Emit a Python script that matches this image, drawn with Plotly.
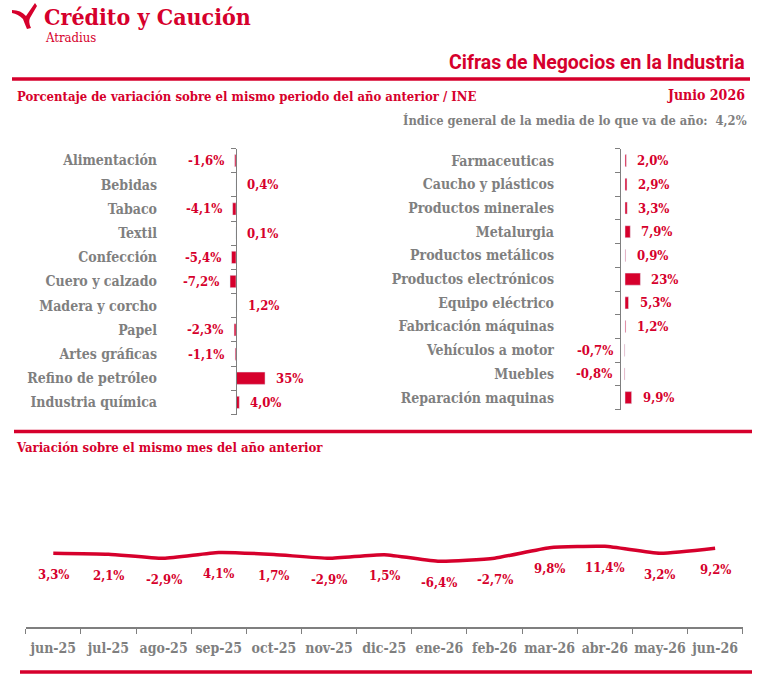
import plotly.graph_objects as go

# Data
left_cats = ["Alimentación", "Bebidas", "Tabaco", "Textil", "Confección", "Cuero y calzado",
             "Madera y corcho", "Papel", "Artes gráficas", "Refino de petróleo", "Industria química"]
left_vals = [-1.6, 0.4, -4.1, 0.1, -5.4, -7.2, 1.2, -2.3, -1.1, 35, 4.0]

right_cats = ["Farmaceuticas", "Caucho y plásticos", "Productos minerales", "Metalurgia",
              "Productos metálicos", "Productos electrónicos", "Equipo eléctrico",
              "Fabricación máquinas", "Vehículos a motor", "Muebles", "Reparación maquinas"]
right_vals = [2.0, 2.9, 3.3, 7.9, 0.9, 23, 5.3, 1.2, -0.7, -0.8, 9.9]

months = ["jun-25", "jul-25", "ago-25", "sep-25", "oct-25", "nov-25", "dic-25",
          "ene-26", "feb-26", "mar-26", "abr-26", "may-26", "jun-26"]
monthly_vals = [3.3, 2.1, -2.9, 4.1, 1.7, -2.9, 1.5, -6.4, -2.7, 9.8, 11.4, 3.2, 9.2]

index_general = 4.2
period = "Junio 2026"

RED = "#d6002c"
GRAY = "#7f7f7f"
SERIF = "DejaVu Serif Condensed, DejaVu Serif, serif"
SANS = "Liberation Sans Narrow, Roboto, sans-serif"
W, H = 762, 676


def fx(p):
    return p / W


def fy(p):
    return 1 - p / H


def pct(v, big_round=True):
    if big_round and abs(v) >= 10:
        s = f"{v:.0f}%"
    else:
        s = f"{v:.1f}%"
    return s.replace(".", ",")


fig = go.Figure()

# bar charts
fig.add_trace(go.Bar(x=left_vals, y=left_cats, orientation="h", marker_color=RED,
                     xaxis="x", yaxis="y", hoverinfo="skip"))
fig.add_trace(go.Bar(x=right_vals, y=right_cats, orientation="h", marker_color=RED,
                     xaxis="x2", yaxis="y2", hoverinfo="skip"))
# empty traces so the overlay axes (line + ticks) get drawn
fig.add_trace(go.Scatter(x=[None], y=[None], xaxis="x", yaxis="y3", showlegend=False))
fig.add_trace(go.Scatter(x=[None], y=[None], xaxis="x2", yaxis="y4", showlegend=False))

# monthly line
fig.add_trace(go.Scatter(x=months, y=monthly_vals, mode="lines", xaxis="x5", yaxis="y5",
                         line=dict(color=RED, width=3.5, shape="spline", smoothing=0.5),
                         hoverinfo="skip"))

lab_font = dict(family=SERIF, size=14, color=GRAY, weight="bold")
val_font = dict(family=SERIF, size=13, color=RED, weight="bold")
head_font = dict(family=SERIF, size=13, color=RED, weight="bold")

# left: zero at px 236, 0.83 px per unit; right: zero at 625, 0.67 px per unit
l0, lsc = 236, 0.83
r0, rsc = 625, 0.67
bound = [i - 0.5 for i in range(12)]
# line chart: 0.84 px per unit, value 15 sits on the grid line at px 543.3
lsc5 = 0.84

fig.update_layout(
    width=W, height=H, autosize=False,
    margin=dict(l=0, r=0, t=0, b=0, pad=0, autoexpand=False),
    paper_bgcolor="white", plot_bgcolor="white", showlegend=False,
    bargap=0.49,
    xaxis=dict(domain=[fx(158), fx(372)], range=[(158 - l0) / lsc, (372 - l0) / lsc],
               visible=False, fixedrange=True, automargin=False),
    yaxis=dict(domain=[fy(414.5), fy(148.5)], type="category", categoryarray=left_cats,
               range=[10.5, -0.5], autorange=False, ticks="", showline=False,
               showgrid=False, tickfont=lab_font, anchor="x", automargin=False),
    yaxis3=dict(overlaying="y", anchor="free", position=fx(l0), type="linear",
                range=[10.5, -0.5], autorange=False, tickvals=bound, ticks="outside",
                ticklen=5, tickcolor=GRAY, showline=True, linecolor=GRAY, linewidth=1,
                showticklabels=False, showgrid=False, zeroline=False, automargin=False),
    xaxis2=dict(domain=[fx(555), fx(750)], range=[(555 - r0) / rsc, (750 - r0) / rsc],
                visible=False, fixedrange=True, automargin=False),
    yaxis2=dict(domain=[fy(409.5), fy(148.8)], type="category", categoryarray=right_cats,
                range=[10.5, -0.5], autorange=False, ticks="", showline=False,
                showgrid=False, tickfont=lab_font, anchor="x2", automargin=False),
    yaxis4=dict(overlaying="y2", anchor="free", position=fx(620), type="linear",
                range=[10.5, -0.5], autorange=False, tickvals=bound, ticks="outside",
                ticklen=5, tickcolor=GRAY, showline=True, linecolor=GRAY, linewidth=1,
                showticklabels=False, showgrid=False, zeroline=False, automargin=False),
    xaxis5=dict(domain=[fx(25.7), fx(742.7)], type="category", categoryarray=months,
                range=[-0.5, len(months) - 0.5], autorange=False, tickson="boundaries",
                ticks="outside", ticklen=5, tickcolor=GRAY, showline=True, linecolor=GRAY,
                linewidth=1.5, showgrid=False, tickangle=0, ticklabelstandoff=7,
                tickfont=dict(family=SERIF, size=14, color=GRAY, weight="bold"),
                anchor="y5", automargin=False),
    yaxis5=dict(domain=[fy(627.3), fy(543.3 - 0.6 * lsc5)],
                range=[15 - (627.3 - 543.3) / lsc5, 15.6], autorange=False,
                tickmode="array", tickvals=[15],
                showticklabels=False, showgrid=True, gridcolor="#c8c8c8", gridwidth=1,
                zeroline=False, anchor="x5", automargin=False),
)

ann = []
for c, v in zip(left_cats, left_vals):
    ann.append(dict(x=v, y=c, xref="x", yref="y", text=pct(v), showarrow=False,
                    xanchor="left" if v >= 0 else "right", xshift=9 if v >= 0 else -9,
                    font=val_font))
for c, v in zip(right_cats, right_vals):
    ann.append(dict(x=v, y=c, xref="x2", yref="y2", text=pct(v), showarrow=False,
                    xanchor="left" if v >= 0 else "right", xshift=9 if v >= 0 else -10,
                    font=val_font))
for m, v in zip(months, monthly_vals):
    ann.append(dict(x=m, y=v, xref="x5", yref="y5", text=pct(v, False), showarrow=False,
                    yshift=-21, font=val_font))

# header texts
ann += [
    dict(x=fx(42), y=fy(17), xref="paper", yref="paper", xanchor="left", yanchor="middle",
         text="Crédito y Caución", showarrow=False,
         font=dict(family=SERIF, size=23, color=RED, weight="bold")),
    dict(x=fx(43), y=fy(38), xref="paper", yref="paper", xanchor="left", yanchor="middle",
         text="Atradius", showarrow=False, font=dict(family=SERIF, size=13, color=RED)),
    dict(x=fx(747), y=fy(62), xref="paper", yref="paper", xanchor="right", yanchor="middle",
         text="Cifras de Negocios en la Industria", showarrow=False,
         font=dict(family=SANS, size=19.5, color=RED, weight="bold")),
    dict(x=fx(15), y=fy(96), xref="paper", yref="paper", xanchor="left", yanchor="middle",
         text="Porcentaje de variación sobre el mismo periodo del año anterior / INE",
         showarrow=False, font=head_font),
    dict(x=fx(747), y=fy(95), xref="paper", yref="paper", xanchor="right", yanchor="middle",
         text=period, showarrow=False, font=dict(head_font, size=14)),
    dict(x=fx(749), y=fy(121), xref="paper", yref="paper", xanchor="right", yanchor="middle",
         text="Índice general de la media de lo que va de año:  " + pct(index_general),
         showarrow=False, font=dict(lab_font, size=12.8)),
    dict(x=fx(14), y=fy(447), xref="paper", yref="paper", xanchor="left", yanchor="middle",
         text="Variación sobre el mismo mes del año anterior", showarrow=False, font=head_font),
]
fig.update_layout(annotations=ann)

# red rules and logo mark
shapes = []
for y0, xa, xb, w in [(79, 12, 750, 3.3), (431.5, 14, 752, 3.5), (672, 20, 752, 3.5)]:
    shapes.append(dict(type="line", xref="paper", yref="paper", x0=fx(xa), x1=fx(xb),
                       y0=fy(y0), y1=fy(y0), line=dict(color=RED, width=w)))
logo = [("M", 12, 10), ("Q", 21, 10, 26, 16), ("L", 35, 3), ("L", 37, 6), ("L", 30, 18),
        ("Q", 28, 22, 31, 28), ("L", 27, 29), ("Q", 24, 22, 23, 19), ("Q", 18, 14, 12, 13)]
path = ""
for seg in logo:
    pts = seg[1:]
    coords = " ".join(f"{fx(pts[i]):.5f},{fy(pts[i + 1]):.5f}" for i in range(0, len(pts), 2))
    path += f"{seg[0]} {coords} "
shapes.append(dict(type="path", xref="paper", yref="paper", path=path + "Z",
                   fillcolor=RED, line=dict(width=0)))
fig.update_layout(shapes=shapes)

fig.write_html("out.html", config={"responsive": False, "displayModeBar": False},
               post_script="document.body.style.margin='0px';")
